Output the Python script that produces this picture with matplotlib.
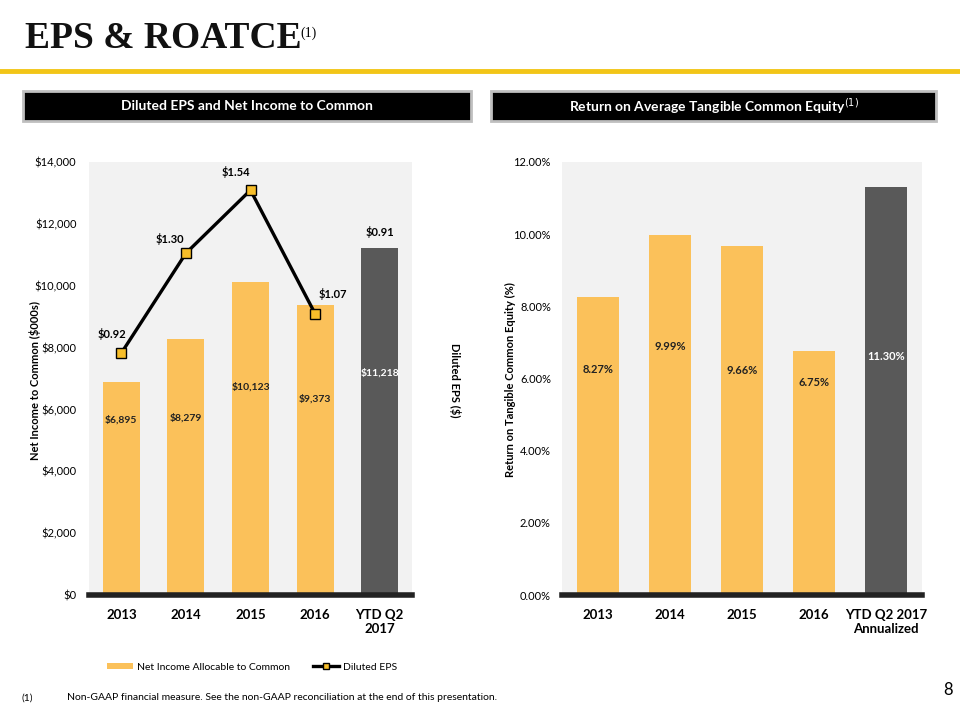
import matplotlib.pyplot as plt
from matplotlib.patches import Rectangle
from matplotlib.lines import Line2D
from matplotlib.patches import Patch

plt.rcParams['font.family'] = ['Lato', 'DejaVu Sans']

# data
years = ["2013", "2014", "2015", "2016", "YTD Q2\n2017"]
net_income = [6895, 8279, 10123, 9373, 11218]
eps = [0.92, 1.30, 1.54, 1.07]
eps_ytd = 0.91

roatce_years = ["2013", "2014", "2015", "2016", "YTD Q2 2017\nAnnualized"]
roatce = [8.27, 9.99, 9.66, 6.75, 11.30]

YELLOW = "#FBC15A"
DARK = "#595959"
BG = "#F2F2F2"

W, H = 960, 720
fig = plt.figure(figsize=(9.6, 7.2), dpi=100)


def fx(px):
    return px / W


def fy(py):
    return 1 - py / H


# title + rule
fig.text(fx(25), fy(48), "EPS & ROATCE", family="Liberation Serif", weight="bold",
         fontsize=27, va="baseline", color="#111111")
fig.text(fx(300), fy(37), "(1)", family="Liberation Serif", fontsize=10, va="baseline")
fig.add_artist(Line2D([0, 1], [fy(71), fy(71)], color="#F2C517", lw=3.5))

# header boxes
for x0, x1, label in [(23, 471, "Diluted EPS and Net Income to Common"),
                      (491, 936, "Return on Average Tangible Common Equity$^{(1)}$")]:
    fig.add_artist(Rectangle((fx(x0), fy(121)), fx(x1 - x0), (121 - 91) / H,
                             facecolor="black", edgecolor="#BFBFBF", lw=2))
    fig.text(fx((x0 + x1) / 2), fy(106), label, color="white", weight="bold",
             fontsize=10, ha="center", va="center")

# left chart
ax = fig.add_axes([fx(89), fy(595), fx(412 - 89), 433 / H])
ax.set_facecolor(BG)
xs = range(len(years))
colors = [YELLOW] * 4 + [DARK]
ax.bar(xs, net_income, width=0.57, color=colors, zorder=2)
ax.set_xlim(-0.5, 4.5)
ax.set_ylim(0, 14000)
ax.set_yticks(range(0, 14001, 2000))
ax.set_yticklabels([f"${v:,}" for v in range(0, 14001, 2000)], fontsize=8)
ax.set_xticks(list(xs))
ax.set_xticklabels(years, fontsize=9.5, weight="bold")
ax.tick_params(length=0, pad=10)
ax.tick_params(axis="y", pad=9)
for s in ["top", "left", "right"]:
    ax.spines[s].set_visible(False)
ax.spines["bottom"].set_linewidth(4)
ax.spines["bottom"].set_color("#222222")
fig.text(fx(35), fy(380), "Net Income to Common ($000s)", rotation=90, fontsize=8,
         weight="bold", ha="center", va="center")

ni_label_y = [5650, 5720, 6720, 6340, 7180]
for i, (v, ly) in enumerate(zip(net_income, ni_label_y)):
    ax.text(i, ly, f"${v:,}", ha="center", va="center", fontsize=7.5, weight="bold",
            color="white" if i == 4 else "#222222", zorder=3)

ax2 = ax.twinx()
ax2.set_ylim(0, 14000 / 8500)
ax2.plot(range(len(eps)), eps, color="black", lw=2.4, marker="s", markersize=6.5,
         markerfacecolor="#F7BE2A", markeredgecolor="black", markeredgewidth=1, zorder=4)
ax2.set_yticks([])
for s in ax2.spines.values():
    s.set_visible(False)
eps_off = [(-0.15, 0.072), (-0.25, 0.055), (-0.22, 0.07), (0.28, 0.075)]
for i, (v, (dx, dy)) in enumerate(zip(eps, eps_off)):
    ax2.text(i + dx, v + dy, f"${v:.2f}", ha="center", va="center", fontsize=8, weight="bold")
ax2.text(4, net_income[4] / 8500 + 0.06, f"${eps_ytd:.2f}", ha="center", va="center",
         fontsize=8, weight="bold")
fig.text(fx(455), fy(380), "Diluted EPS ($)", rotation=-90, fontsize=8, weight="bold",
         ha="center", va="center")

# right chart
axr = fig.add_axes([fx(562), fy(595), fx(922 - 562), 433 / H])
axr.set_facecolor(BG)
axr.bar(range(len(roatce)), roatce, width=0.57, color=colors, zorder=2)
axr.set_xlim(-0.5, 4.5)
axr.set_ylim(0, 12)
axr.set_yticks(range(0, 13, 2))
axr.set_yticklabels([f"{v:.2f}%" for v in range(0, 13, 2)], fontsize=8)
axr.set_xticks(range(len(roatce_years)))
axr.set_xticklabels(roatce_years, fontsize=9.5, weight="bold")
axr.tick_params(length=0, pad=10)
axr.tick_params(axis="y", pad=8)
for s in ["top", "left", "right"]:
    axr.spines[s].set_visible(False)
axr.spines["bottom"].set_linewidth(4)
axr.spines["bottom"].set_color("#222222")
fig.text(fx(510), fy(380), "Return on Tangible Common Equity (%)", rotation=90, fontsize=8,
         weight="bold", ha="center", va="center")
ro_label_y = [6.24, 6.90, 6.21, 5.90, 6.62]
for i, (v, ly) in enumerate(zip(roatce, ro_label_y)):
    axr.text(i, ly, f"{v:.2f}%", ha="center", va="center", fontsize=8, weight="bold",
             color="white" if i == 4 else "#222222", zorder=3)

# legend
handles = [Patch(facecolor=YELLOW, edgecolor="none"),
           Line2D([0], [0], color="black", lw=2.4, marker="s", markersize=4,
                  markerfacecolor="#F7BE2A", markeredgecolor="black")]
fig.legend(handles, ["Net Income Allocable to Common", "Diluted EPS"],
           loc="center", bbox_to_anchor=(fx(252), fy(667)), ncol=2, frameon=False,
           fontsize=7.5, handlelength=2.5, handleheight=0.6, columnspacing=2.2,
           handletextpad=0.4)

# footnote + page number
fig.text(fx(22), fy(698), "(1)", fontsize=7.5, va="center")
fig.text(fx(67), fy(698), "Non-GAAP financial measure. See the non-GAAP reconciliation at the end of this presentation.",
         fontsize=7.5, va="center")
fig.text(fx(948), fy(690), "8", fontsize=12, ha="center", va="center")

fig.savefig("out.png", dpi=100)
